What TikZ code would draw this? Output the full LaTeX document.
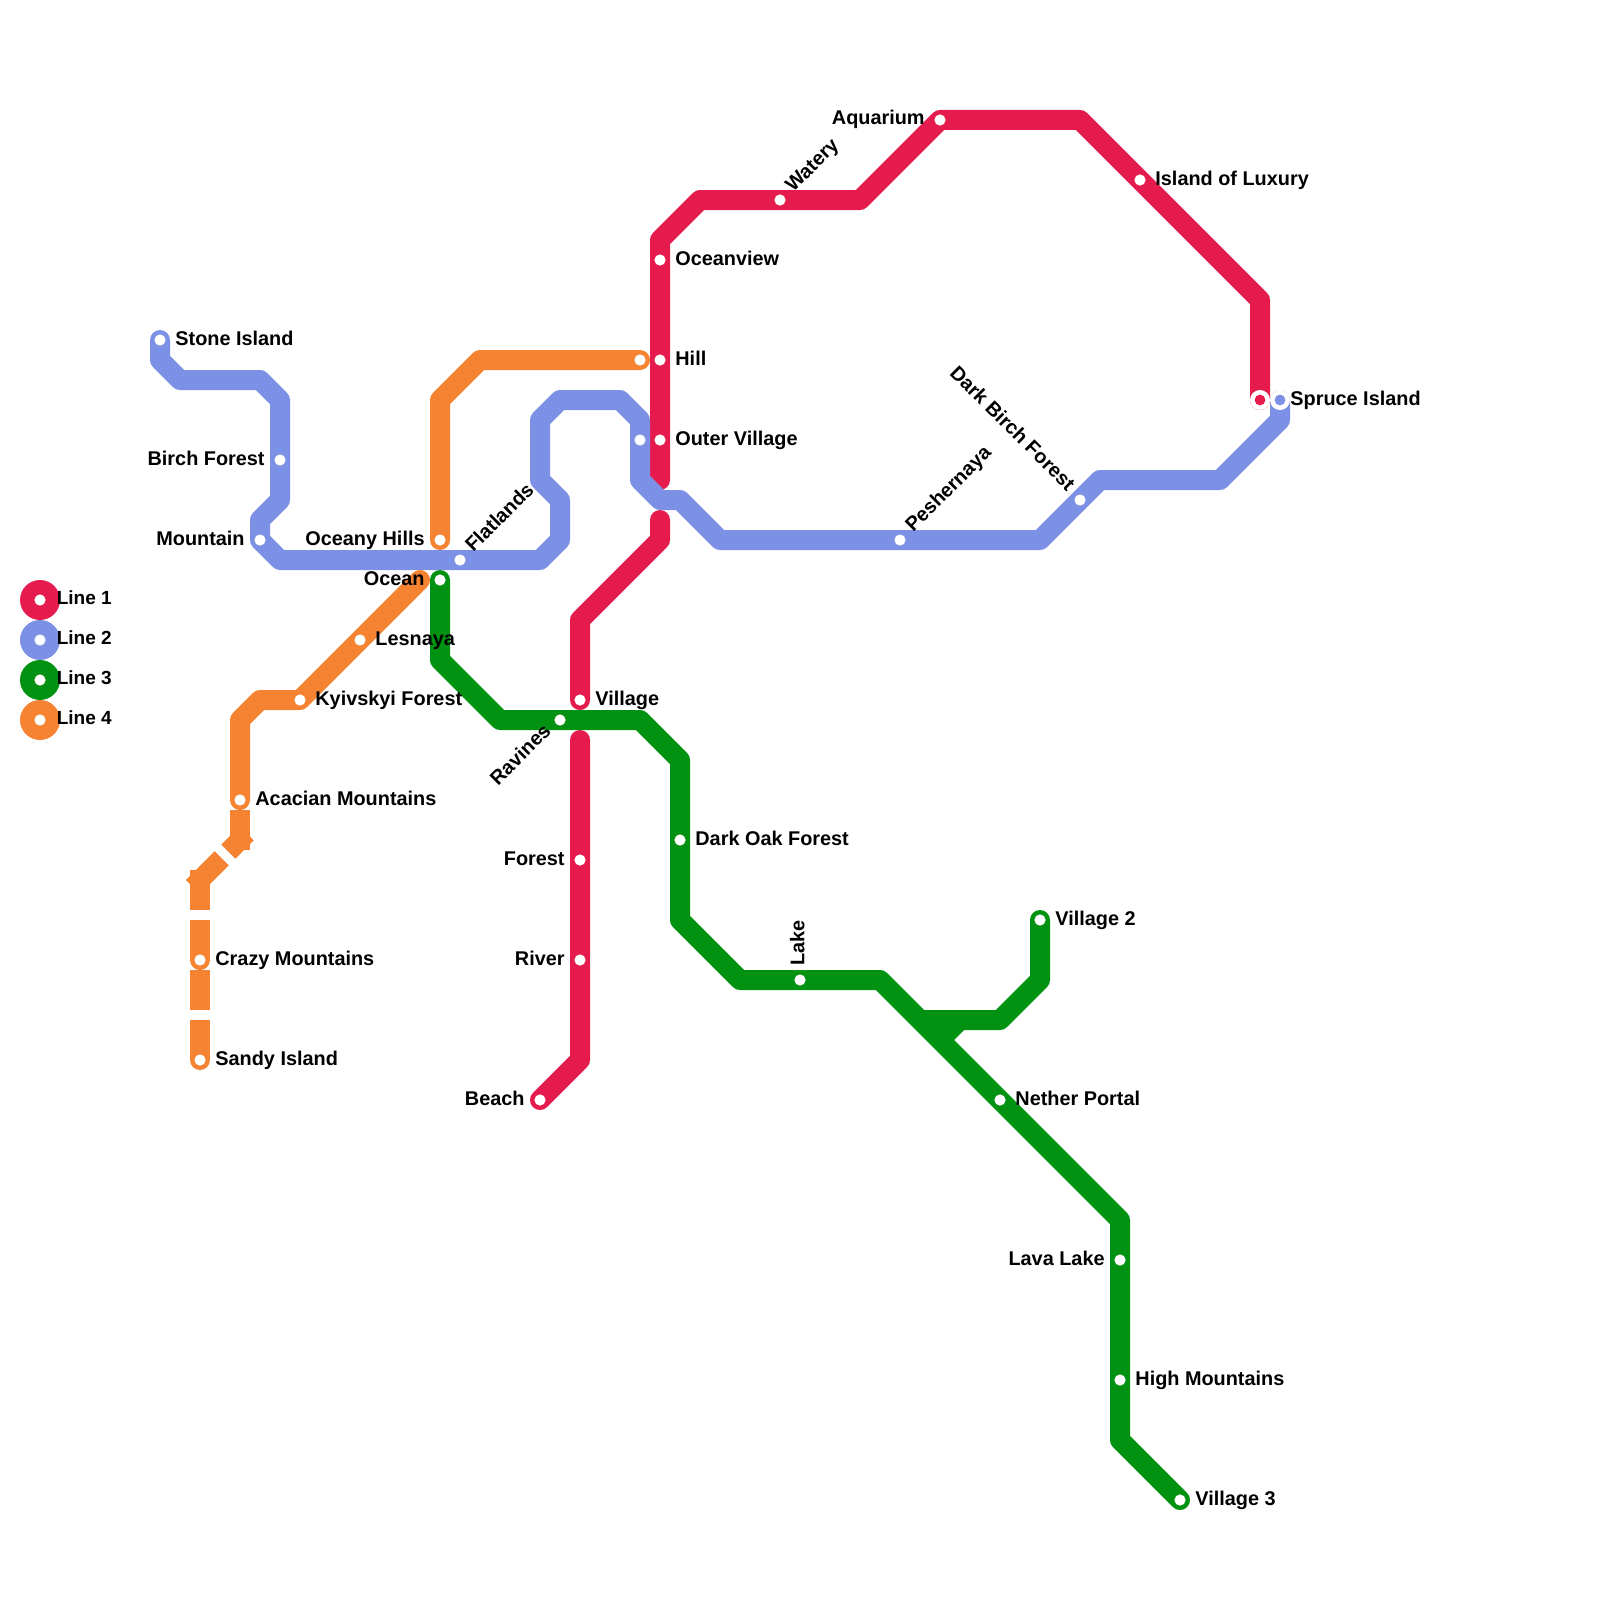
\documentclass[tikz,border=0pt]{standalone}
\usepackage{fontspec}
\setmainfont{Liberation Sans}
\definecolor{lred}{HTML}{E61B4D}
\definecolor{lblue}{HTML}{7C91E5}
\definecolor{lgreen}{HTML}{029212}
\definecolor{lorange}{HTML}{F68332}
\tikzset{
  route/.style={line width=10pt,line join=round,line cap=round},
  butt/.style={line width=10pt,line join=round,line cap=butt},
  hole/.style={circle,fill=white,draw=none,minimum size=5.6pt,inner sep=0pt},
  ringhole/.style={circle,fill=white,draw=none,minimum size=10pt,inner sep=0pt},
  core/.style={circle,draw=none,minimum size=5.4pt,inner sep=0pt},
  legenddot/.style={circle,draw=none,minimum size=20pt,inner sep=0pt},
  txt/.style={font=\fontsize{9.93}{12}\selectfont\bfseries,inner sep=0pt,text=black},
  lr/.style={txt,anchor=base west,xshift=7.5pt,yshift=-2.5pt},
  ll/.style={txt,anchor=base east,xshift=-7.5pt,yshift=-2.5pt},
  lne/.style={txt,xshift=6.5pt,yshift=3.4pt,rotate=45,anchor=base west},
  lsw/.style={txt,xshift=-3.9pt,yshift=-6pt,rotate=45,anchor=base east},
  lnw/.style={txt,xshift=-6.45pt,yshift=3.9pt,rotate=-45,anchor=base east},
  lup/.style={txt,xshift=2.2pt,yshift=7.1pt,rotate=90,anchor=base west}
}
\newcommand{\stn}[3]{\node[hole] (h-#1) at (#1) {};\node[#2] (t-#1) at (#1) {#3};}
\newcommand{\plainstn}[1]{\node[hole] (h-#1) at (#1) {};}
\begin{document}
\begin{tikzpicture}[x=0.5pt,y=-0.5pt]
\path[use as bounding box,fill=white] (0,0) rectangle (1600,1600);
% stations
\foreach \n/\x/\y in {
 aquarium/940/120, watery/780/200, oceanview/660/260, hill/660/360, outer/660/440,
 luxury/1140/180, village/580/700, forest/580/860, river/580/960, beach/540/1100, rterm/1260/400,
 stone/160/340, birch/280/460, mountain/260/540, flatlands/460/560, bluex/640/440,
 peshernaya/900/540, darkbirch/1080/500, spruce/1280/400,
 ocean/440/580, ravines/560/720, darkoak/680/840, lake/800/980, village2/1040/920,
 nether/1000/1100, lava/1120/1260, high/1120/1380, village3/1180/1500,
 orangex/640/360, oceany/440/540, lesnaya/360/640, kyiv/300/700, acacian/240/800,
 crazy/200/960, sandy/200/1060}
 {\coordinate (\n) at (\x,\y);}
% Line 1
\draw[route,lred] (rterm) -- (1260,300) -- (luxury) -- (1080,120) -- (aquarium) -- (860,200) -- (watery) -- (700,200) -- (660,240) -- (oceanview) -- (hill) -- (outer) -- (660,480);
\draw[route,lred] (660,520) -- (660,540) -- (580,620) -- (village);
\draw[route,lred] (580,740) -- (forest) -- (river) -- (580,1060) -- (beach);
% Line 2
\draw[route,lblue] (stone) -- (160,360) -- (180,380) -- (260,380) -- (280,400) -- (birch) -- (280,500) -- (260,520) -- (mountain) -- (280,560) -- (flatlands) -- (540,560) -- (560,540) -- (560,500) -- (540,480) -- (540,420) -- (560,400) -- (620,400) -- (640,420) -- (bluex) -- (640,480) -- (660,500) -- (680,500) -- (720,540) -- (peshernaya) -- (1040,540) -- (darkbirch) -- (1100,480) -- (1220,480) -- (1280,420) -- (spruce);
% Line 3
\draw[route,lgreen] (ocean) -- (440,660) -- (500,720) -- (ravines) -- (640,720) -- (680,760) -- (darkoak) -- (680,920) -- (740,980) -- (lake) -- (880,980) -- (nether) -- (1120,1220) -- (lava) -- (high) -- (1120,1440) -- (village3);
\draw[route,lgreen] (village2) -- (1040,980) -- (1000,1020) -- (925,1020);
\draw[route,lgreen,line cap=butt] (960,1020) -- (935,1045);
% Line 4
\draw[route,lorange] (orangex) -- (480,360) -- (440,400) -- (oceany);
\draw[route,lorange] (420,580) -- (lesnaya) -- (kyiv) -- (260,700) -- (240,720) -- (acacian);
\draw[butt,lorange] (240,810) -- (240,850);
\draw[butt,lorange] (246.7,833.3) -- (228.3,851.7);
\draw[butt,lorange] (221.7,858.3) -- (193,887);
\draw[butt,lorange] (200,870) -- (200,910);
\draw[butt,lorange] (200,920) -- (200,950);
\draw[route,lorange] (200,950) -- (crazy);
\draw[butt,lorange] (200,970) -- (200,1010);
\draw[butt,lorange] (200,1020) -- (200,1050);
\draw[route,lorange] (200,1050) -- (sandy);
% Station marks and names
\stn{aquarium}{ll}{Aquarium}
\stn{watery}{lne}{Watery}
\stn{oceanview}{lr}{Oceanview}
\stn{hill}{lr}{Hill}
\stn{outer}{lr}{Outer Village}
\stn{luxury}{lr}{Island of Luxury}
\stn{village}{lr}{Village}
\stn{forest}{ll}{Forest}
\stn{river}{ll}{River}
\stn{beach}{ll}{Beach}
\stn{stone}{lr}{Stone Island}
\stn{birch}{ll}{Birch Forest}
\stn{mountain}{ll}{Mountain}
\stn{flatlands}{lne}{Flatlands}
\plainstn{bluex}
\stn{peshernaya}{lne}{Peshernaya}
\stn{darkbirch}{lnw}{Dark Birch Forest}
\stn{ocean}{ll}{Ocean}
\stn{ravines}{lsw}{Ravines}
\stn{darkoak}{lr}{Dark Oak Forest}
\stn{lake}{lup}{Lake}
\stn{village2}{lr}{Village 2}
\stn{nether}{lr}{Nether Portal}
\stn{lava}{ll}{Lava Lake}
\stn{high}{lr}{High Mountains}
\stn{village3}{lr}{Village 3}
\plainstn{orangex}
\stn{oceany}{ll}{Oceany Hills}
\stn{lesnaya}{lr}{Lesnaya}
\stn{kyiv}{lr}{Kyivskyi Forest}
\stn{acacian}{lr}{Acacian Mountains}
\stn{crazy}{lr}{Crazy Mountains}
\stn{sandy}{lr}{Sandy Island}
% Interchange end points
\node[ringhole] (rh1) at (rterm) {};
\node[core,fill=lred] (rc1) at (rterm) {};
\node[ringhole] (rh2) at (spruce) {};
\node[core,fill=lblue] (rc2) at (spruce) {};
\node[txt,anchor=base west,xshift=5pt,yshift=-2.5pt] (t-spruce) at (spruce) {Spruce Island};
% Legend
\foreach \i/\c/\yy in {1/lred/600,2/lblue/640,3/lgreen/680,4/lorange/720}{
  \node[legenddot,fill=\c] (leg\i) at (40,\yy) {};
  \node[hole] (legh\i) at (leg\i) {};
  \node[txt,font=\fontsize{9.5}{12}\selectfont\bfseries,anchor=base west,xshift=8.2pt,yshift=-2.3pt] (legt\i) at (leg\i) {Line \i};
}
\end{tikzpicture}
\end{document}
